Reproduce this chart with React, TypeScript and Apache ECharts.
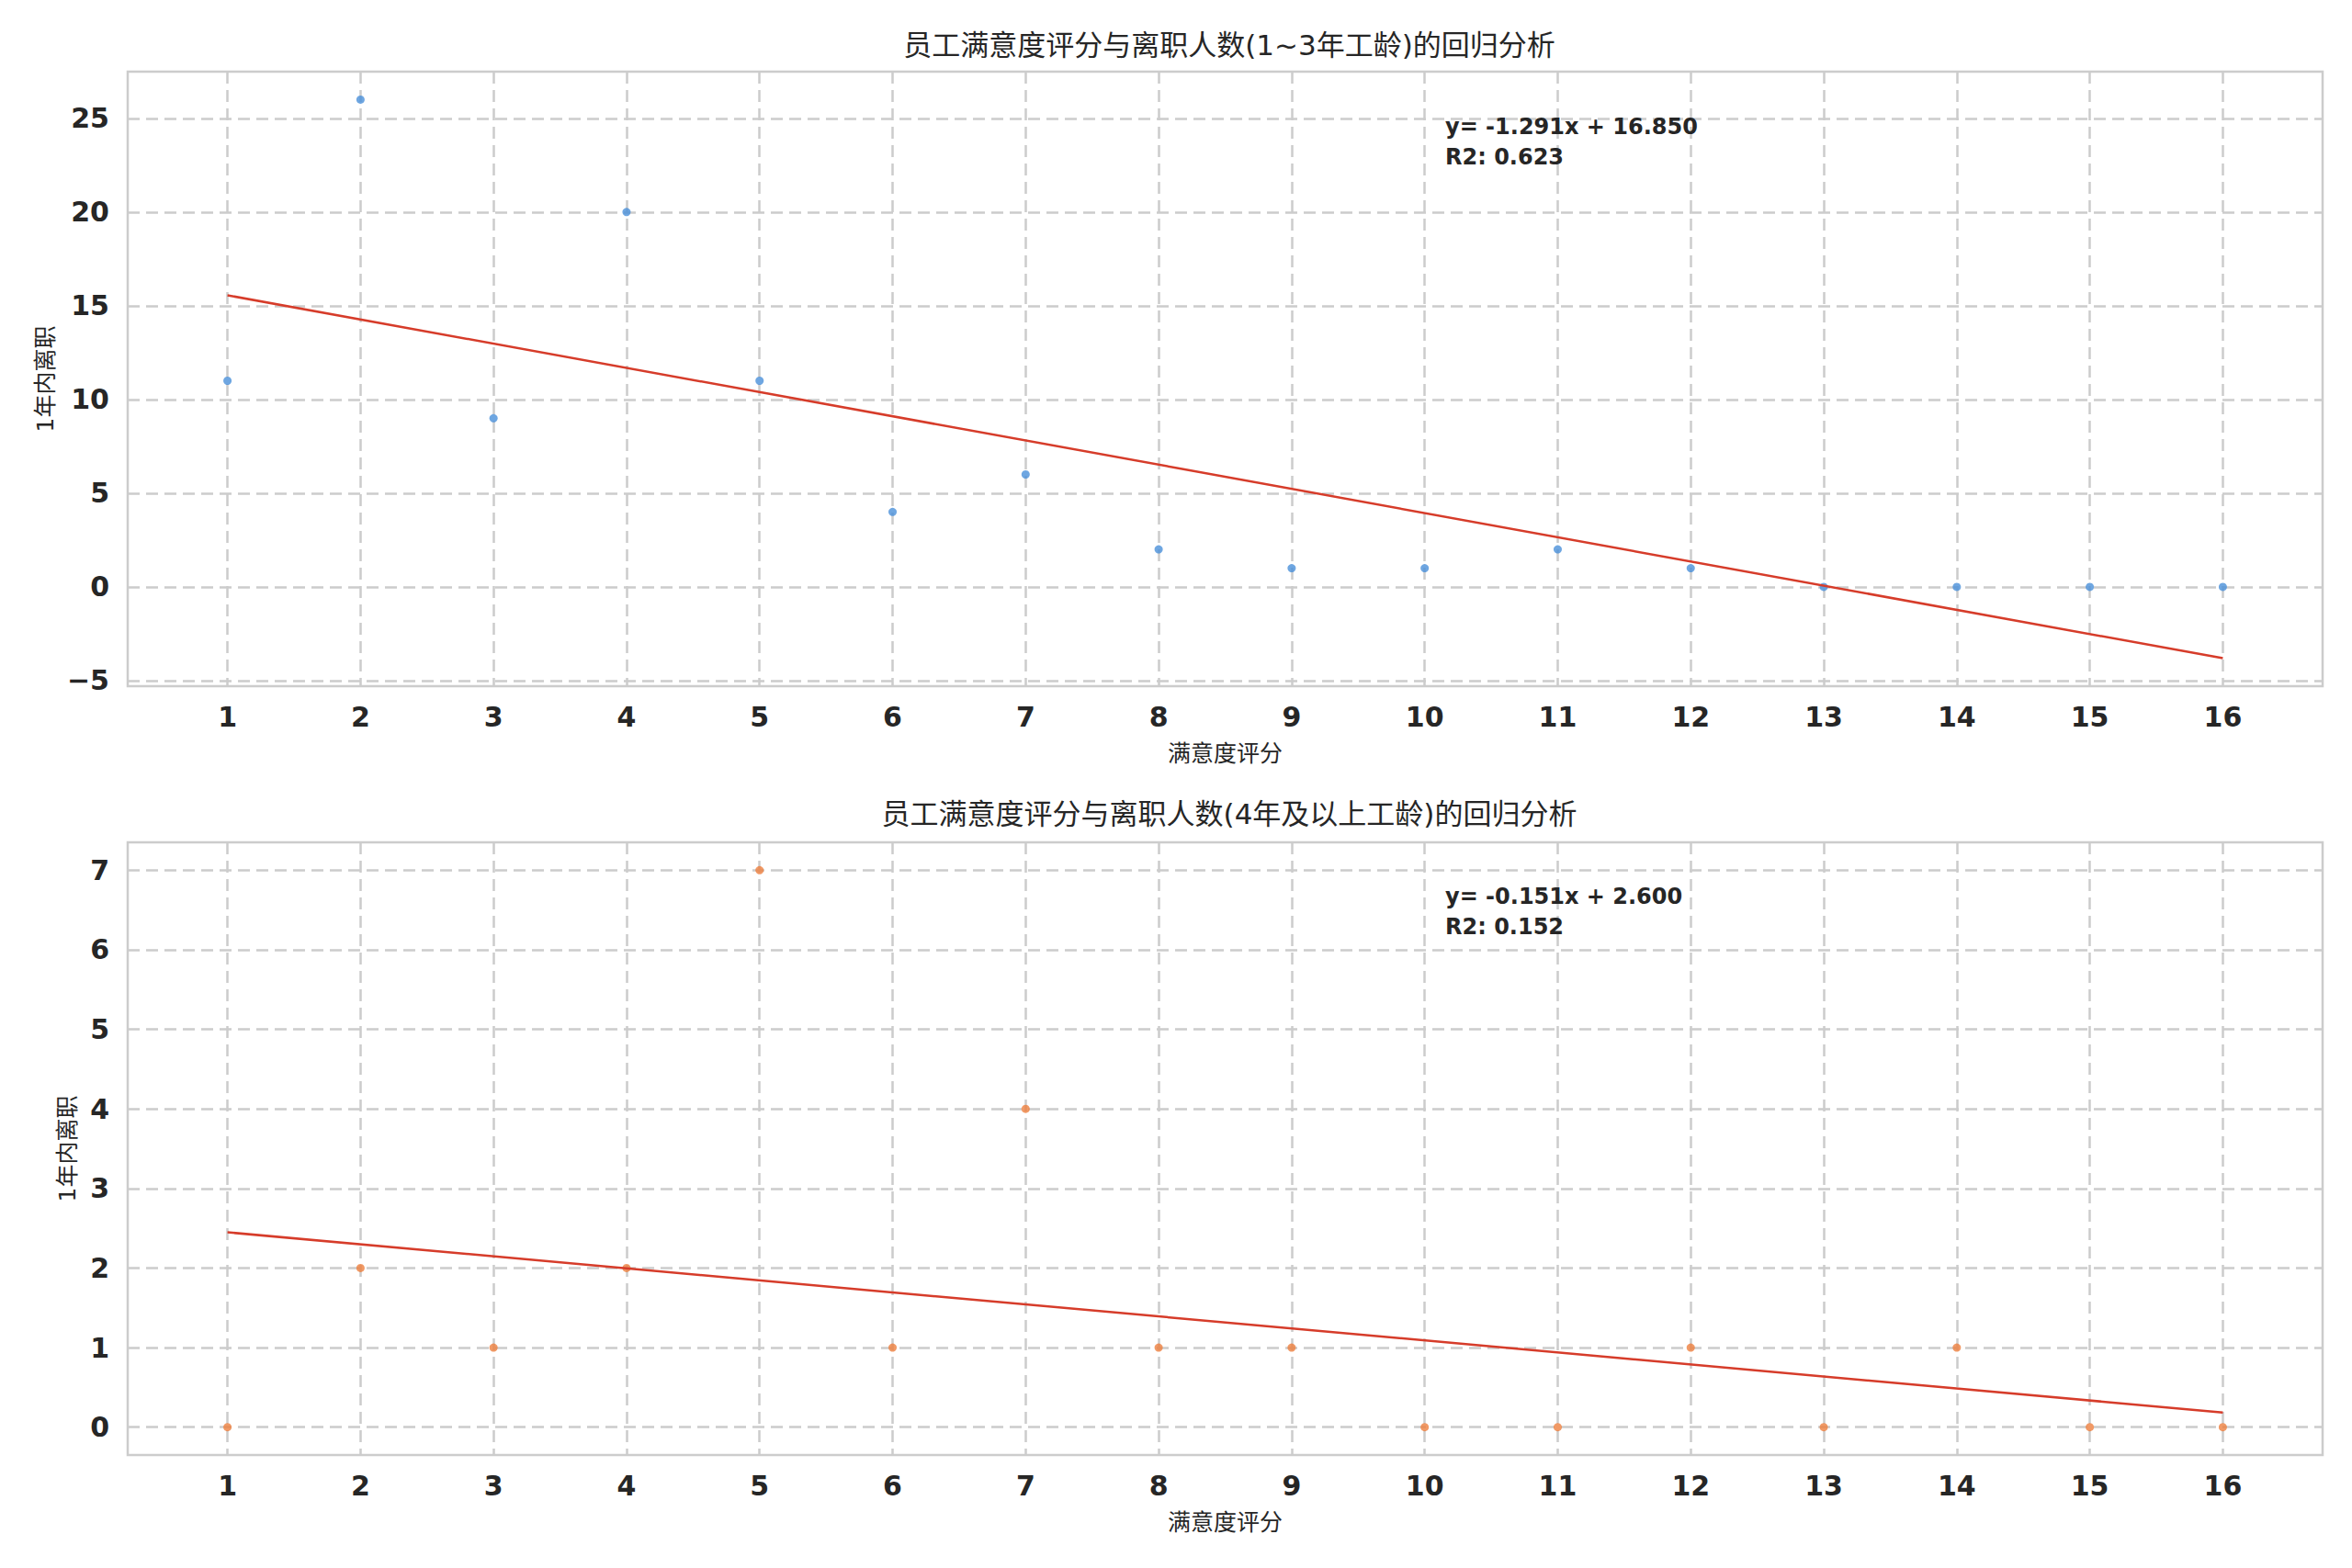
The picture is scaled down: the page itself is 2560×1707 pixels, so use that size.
import React, { useEffect, useRef } from "react";
import * as echarts from "echarts";

// ---------- data ----------
const X_VALUES = [1, 2, 3, 4, 5, 6, 7, 8, 9, 10, 11, 12, 13, 14, 15, 16];
const SHORT_TENURE_COUNTS = [11, 26, 9, 20, 11, 4, 6, 2, 1, 1, 2, 1, 0, 0, 0, 0];
const LONG_TENURE_COUNTS = [0, 2, 1, 2, 7, 1, 4, 1, 1, 0, 0, 1, 0, 1, 0, 0];

const SHORT_SLOPE = -1.291;
const SHORT_INTERCEPT = 16.85;
const SHORT_R2 = 0.623;
const LONG_SLOPE = -0.151;
const LONG_INTERCEPT = 2.6;
const LONG_R2 = 0.152;

const X_TICKS = [1, 2, 3, 4, 5, 6, 7, 8, 9, 10, 11, 12, 13, 14, 15, 16];
const TOP_Y_TICKS = [-5, 0, 5, 10, 15, 20, 25];
const BOTTOM_Y_TICKS = [0, 1, 2, 3, 4, 5, 6, 7];

const X_RANGE = [0.25, 16.75];
const TOP_Y_RANGE = [-5.296, 27.49];
const BOTTOM_Y_RANGE = [-0.35, 7.35];

const TOP_TITLE = "员工满意度评分与离职人数(1~3年工龄)的回归分析";
const BOTTOM_TITLE = "员工满意度评分与离职人数(4年及以上工龄)的回归分析";
const X_NAME = "满意度评分";
const Y_NAME = "1年内离职";

// ---------- style ----------
const FONT = "'DejaVu Sans', 'Noto Sans CJK SC', sans-serif";
const TEXT = "#262626";
const GRID_COLOR = "#cccccc";
const BLUE = "#4a90d9";
const ORANGE = "#ee7f3f";
const RED = "#d63c2a";

const fitLine = (slope: number, intercept: number) => [
  [X_VALUES[0], intercept + slope * X_VALUES[0]],
  [X_VALUES[X_VALUES.length - 1], intercept + slope * X_VALUES[X_VALUES.length - 1]],
];

const fmtY = (v: number) => (v < 0 ? "\u2212" + Math.abs(v) : String(v));

const splitLine = {
  show: true,
  lineStyle: { color: GRID_COLOR, width: 2.5, type: [13, 7] as any },
};

const makeX = (gridIndex: number) => ({
  type: "value",
  gridIndex,
  min: X_RANGE[0],
  max: X_RANGE[1],
  axisLine: { show: false },
  axisTick: { show: false, customValues: X_TICKS },
  axisLabel: {
    customValues: X_TICKS,
    fontSize: 30,
    fontWeight: "bold",
    color: TEXT,
    fontFamily: FONT,
    margin: 18,
  },
  splitLine,
  name: X_NAME,
  nameLocation: "middle",
  nameGap: 61,
  nameTextStyle: { fontSize: 25, color: TEXT, fontFamily: FONT },
});

const makeY = (gridIndex: number, range: number[], ticks: number[], nameGap: number) => ({
  type: "value",
  gridIndex,
  min: range[0],
  max: range[1],
  axisLine: { show: false },
  axisTick: { show: false, customValues: ticks },
  axisLabel: {
    customValues: ticks,
    fontSize: 30,
    fontWeight: "bold",
    color: TEXT,
    fontFamily: FONT,
    margin: 20,
    formatter: (v: number) => fmtY(v),
  },
  splitLine,
  name: Y_NAME,
  nameLocation: "middle",
  nameGap,
  nameTextStyle: { fontSize: 25, color: TEXT, fontFamily: FONT },
});

const annotation = (slope: number, intercept: number, r2: number) =>
  `y= ${slope.toFixed(3)}x + ${intercept.toFixed(3)}\nR2: ${r2.toFixed(3)}`;

const titleStyle = { fontSize: 31, fontWeight: "normal", color: TEXT, fontFamily: FONT };

const option: any = {
  animation: false,
  backgroundColor: "#ffffff",
  title: [
    { text: TOP_TITLE, left: 1333, top: 28, textAlign: "center", textStyle: titleStyle },
    { text: BOTTOM_TITLE, left: 1333, top: 865, textAlign: "center", textStyle: titleStyle },
  ],
  grid: [
    { left: 139, right: 32, top: 78, height: 669, show: true, borderColor: GRID_COLOR, borderWidth: 2.5, backgroundColor: "transparent" },
    { left: 139, right: 32, top: 917, height: 667, show: true, borderColor: GRID_COLOR, borderWidth: 2.5, backgroundColor: "transparent" },
  ],
  xAxis: [makeX(0), makeX(1)],
  yAxis: [
    makeY(0, TOP_Y_RANGE, TOP_Y_TICKS, 77),
    makeY(1, BOTTOM_Y_RANGE, BOTTOM_Y_TICKS, 53),
  ],
  series: [
    {
      type: "scatter",
      xAxisIndex: 0,
      yAxisIndex: 0,
      symbolSize: 9,
      itemStyle: { color: BLUE },
      data: X_VALUES.map((x, i) => [x, SHORT_TENURE_COUNTS[i]]),
    },
    {
      type: "line",
      xAxisIndex: 0,
      yAxisIndex: 0,
      showSymbol: false,
      symbol: "none",
      lineStyle: { color: RED, width: 2.5 },
      data: fitLine(SHORT_SLOPE, SHORT_INTERCEPT),
    },
    {
      type: "scatter",
      xAxisIndex: 1,
      yAxisIndex: 1,
      symbolSize: 9,
      itemStyle: { color: ORANGE },
      data: X_VALUES.map((x, i) => [x, LONG_TENURE_COUNTS[i]]),
    },
    {
      type: "line",
      xAxisIndex: 1,
      yAxisIndex: 1,
      showSymbol: false,
      symbol: "none",
      lineStyle: { color: RED, width: 2.5 },
      data: fitLine(LONG_SLOPE, LONG_INTERCEPT),
    },
  ],
  graphic: [
    {
      type: "text",
      left: 1573,
      top: 121,
      z: 100,
      style: {
        text: annotation(SHORT_SLOPE, SHORT_INTERCEPT, SHORT_R2),
        fontSize: 24,
        fontWeight: "bold",
        fontFamily: FONT,
        lineHeight: 33,
        fill: TEXT,
      },
    },
    {
      type: "text",
      left: 1573,
      top: 959,
      z: 100,
      style: {
        text: annotation(LONG_SLOPE, LONG_INTERCEPT, LONG_R2),
        fontSize: 24,
        fontWeight: "bold",
        fontFamily: FONT,
        lineHeight: 33,
        fill: TEXT,
      },
    },
  ],
};

export default function App() {
  const ref = useRef<HTMLDivElement>(null);
  useEffect(() => {
    document.body.style.margin = "0";
    const chart = echarts.init(ref.current!, null, { renderer: "svg" });
    chart.setOption(option);
    return () => chart.dispose();
  }, []);
  return <div ref={ref} style={{ width: 2560, height: 1707 }} />;
}
